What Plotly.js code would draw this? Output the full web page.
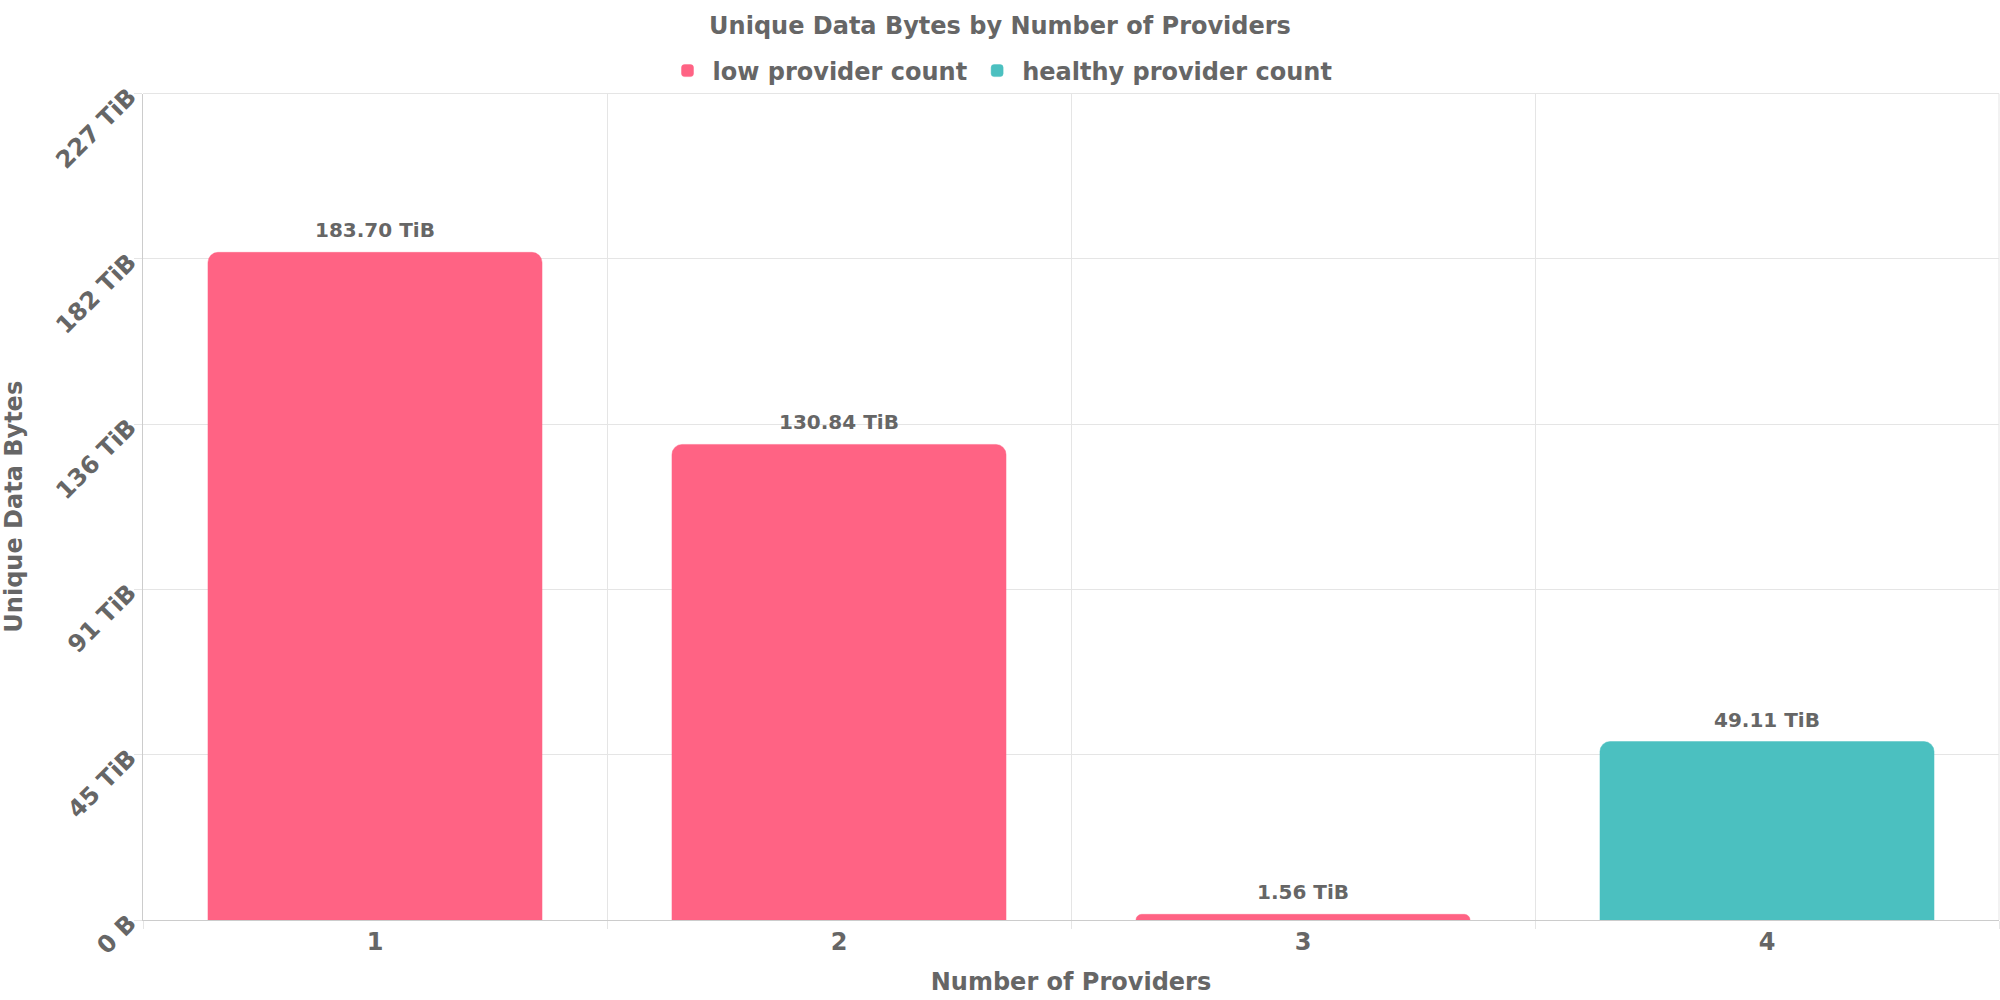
<!DOCTYPE html>
<html>
<head>
<meta charset="utf-8">
<script src="https://cdn.plot.ly/plotly-3.0.1.min.js"></script>
<style>html,body{margin:0;padding:0;background:#fff;}#chart{width:2000px;height:1000px;}</style>
</head>
<body>
<div id="chart"></div>
<script>
// Data (values in TiB)
const categories = ['1', '2', '3', '4'];
const lowCategories = ['1', '2', '3'];
const lowValues = [183.70, 130.84, 1.56];
const healthyCategories = ['4'];
const healthyValues = [49.11];
const seriesNames = ['low provider count', 'healthy provider count'];
const yTickValues = [0, 45.48, 90.96, 136.44, 181.92, 227.4];
const yTickLabels = ['0 B', '45 TiB', '91 TiB', '136 TiB', '182 TiB', '227 TiB'];
const yMax = 227.4;

const FONT = 'DejaVu Sans, Verdana, sans-serif';
const TXT = '#666666';
const pink = 'rgb(255,99,132)';
const teal = 'rgb(75,192,192)';

function fmt(v) { return v.toFixed(2) + ' TiB'; }

const traces = [
  {
    type: 'bar', name: seriesNames[0], x: lowCategories, y: lowValues,
    marker: {color: pink, cornerradius: 10, line: {color: 'rgba(255,99,132,0.45)', width: 1}},
    width: 0.72, hovertext: lowValues.map(fmt), hoverinfo: 'x+text'
  },
  {
    type: 'bar', name: seriesNames[1], x: healthyCategories, y: healthyValues,
    marker: {color: teal, cornerradius: 10, line: {color: 'rgba(75,192,192,0.45)', width: 1}},
    width: 0.72, hovertext: healthyValues.map(fmt), hoverinfo: 'x+text'
  }
];

// value labels above bars, positioned through the axes (category index on x)
const labelFont = {family: FONT, size: 20, color: TXT, weight: 'bold'};
const annotations = [];
function addLabels(cats, vals) {
  cats.forEach((c, i) => annotations.push({
    x: categories.indexOf(c), y: vals[i], xref: 'x', yref: 'y', text: fmt(vals[i]),
    showarrow: false, yanchor: 'bottom', xanchor: 'center', yshift: 8, font: labelFont
  }));
}
addLabels(lowCategories, lowValues);
addLabels(healthyCategories, healthyValues);

const layout = {
  width: 2000, height: 1000,
  paper_bgcolor: '#ffffff', plot_bgcolor: '#ffffff',
  margin: {l: 143, r: 1, t: 93, b: 80, pad: 0},
  barmode: 'overlay',
  font: {family: FONT, color: TXT, size: 24, weight: 'bold'},
  title: {
    text: 'Unique Data Bytes by Number of Providers',
    x: 0.5, xref: 'container', xanchor: 'center',
    y: 0.9745, yref: 'container', yanchor: 'middle',
    font: {family: FONT, size: 24, color: TXT, weight: 'bold'}
  },
  showlegend: true,
  legend: {
    orientation: 'h', x: 0.5, xref: 'container', xanchor: 'center',
    y: 0.929, yref: 'container', yanchor: 'middle',
    font: {family: FONT, size: 24, color: TXT, weight: 'bold'},
    itemwidth: 40, traceorder: 'normal', bgcolor: 'rgba(0,0,0,0)'
  },
  annotations: annotations,
  xaxis: {
    type: 'category', categoryorder: 'array', categoryarray: categories,
    range: [-0.5, categories.length - 0.5], autorange: false,
    tickson: 'boundaries', ticks: 'outside', ticklen: 8, tickcolor: '#e5e5e5',
    showgrid: true, gridcolor: '#e5e5e5', gridwidth: 1,
    showline: true, linecolor: '#cccccc', linewidth: 1, mirror: false,
    tickfont: {family: FONT, size: 24, color: TXT, weight: 'bold'},
    title: {text: 'Number of Providers', standoff: 18, font: {family: FONT, size: 24, color: TXT, weight: 'bold'}},
    automargin: false, fixedrange: true
  },
  yaxis: {
    range: [0, yMax], autorange: false, tickmode: 'array', tickvals: yTickValues, ticktext: yTickLabels,
    tickangle: -45, ticks: 'outside', ticklen: 8, tickcolor: '#e5e5e5',
    showgrid: true, gridcolor: '#e5e5e5', gridwidth: 1, zeroline: false,
    showline: true, linecolor: '#cccccc', linewidth: 1,
    tickfont: {family: FONT, size: 24, color: TXT, weight: 'bold'},
    title: {text: 'Unique Data Bytes', standoff: 22, font: {family: FONT, size: 24, color: TXT, weight: 'bold'}},
    automargin: false, fixedrange: true
  },
  shapes: [
    {type: 'line', xref: 'paper', yref: 'paper', x0: 1, x1: 1, y0: 0, y1: 1, line: {color: '#e5e5e5', width: 1}},
    {type: 'line', xref: 'paper', yref: 'paper', x0: 0, x1: 1, y0: 1, y1: 1, line: {color: '#e5e5e5', width: 1}}
  ]
};

Plotly.newPlot('chart', traces, layout, {displayModeBar: false, responsive: false});
</script>
</body>
</html>
